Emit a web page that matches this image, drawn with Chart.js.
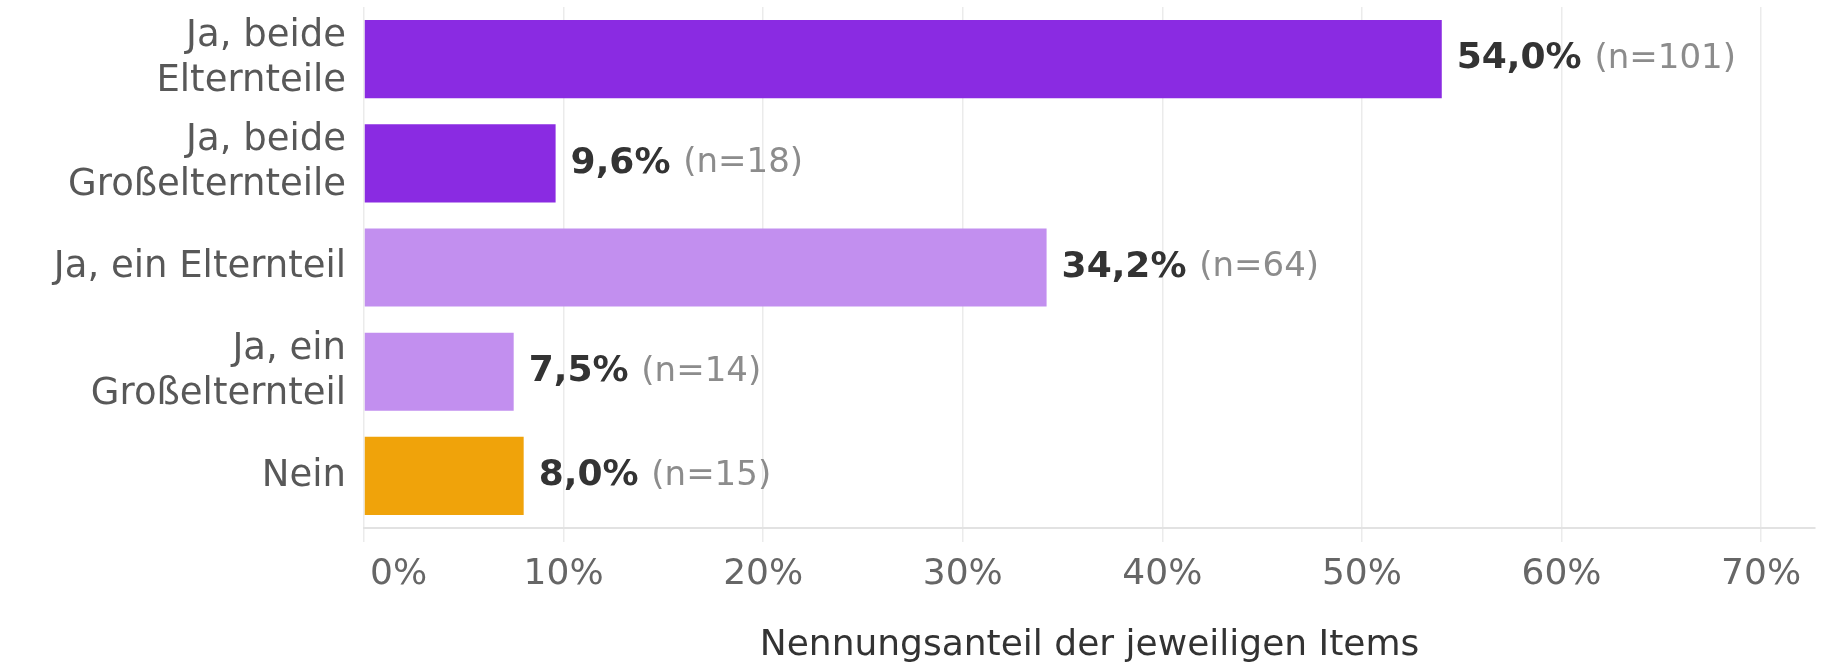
<!DOCTYPE html>
<html><head><meta charset="utf-8">
<script src="https://cdn.jsdelivr.net/npm/chart.js@4/dist/chart.umd.min.js"></script>
<style>html,body{margin:0;padding:0;background:#fff;} #wrap{width:1845px;height:664px;position:relative;}</style>
</head><body><div id="wrap"><canvas id="c"></canvas></div>
<script>
const categories = [["Ja, beide","Elternteile"],["Ja, beide","Großelternteile"],"Ja, ein Elternteil",["Ja, ein","Großelternteil"],"Nein"];
const shares = [54.0, 9.6, 34.2, 7.5, 8.0];
const counts = [101, 18, 64, 14, 15];
const barColors = ["#8a2be2","#8a2be2","#c28fef","#c28fef","#f0a30a"];
const xTicks = [0,10,20,30,40,50,60,70];
const xMax = 72.7;
const axisTitle = "Nennungsanteil der jeweiligen Items";

const FONT = "'DejaVu Sans', sans-serif";

const valueLabels = {
  id: 'valueLabels',
  afterDatasetsDraw(chart) {
    const ctx = chart.ctx;
    const meta = chart.getDatasetMeta(0);
    ctx.save();
    ctx.textBaseline = 'middle';
    ctx.textAlign = 'left';
    meta.data.forEach((el, i) => {
      const pct = shares[i].toFixed(1).replace('.', ',') + '%';
      const x = el.x + 15;
      ctx.font = "bold 36px " + FONT;
      ctx.fillStyle = '#333333';
      ctx.fillText(pct, x, el.y);
      const w = ctx.measureText(pct).width;
      ctx.font = "34px " + FONT;
      ctx.fillStyle = '#8c8c8c';
      ctx.fillText(' (n=' + counts[i] + ')', x + w + 2, el.y);
    });
    ctx.restore();
  }
};

const firstTickAlign = {
  id: 'firstTickAlign',
  beforeDraw(chart) {
    const s = chart.scales.x;
    const items = s.getLabelItems();
    if (items && items.length) {
      items[0].options.textAlign = 'left';
      items[0].options.translation[0] = s.getPixelForValue(xTicks[0]) + 6;
    }
  }
};

new Chart(document.getElementById('c'), {
  type: 'bar',
  data: {
    labels: categories,
    datasets: [{
      data: shares,
      backgroundColor: barColors,
      borderWidth: 0,
      categoryPercentage: 1.0,
      barPercentage: 0.75
    }]
  },
  options: {
    indexAxis: 'y',
    responsive: true,
    maintainAspectRatio: false,
    animation: false,
    layout: { padding: { left: 0, right: 30, top: 7, bottom: 0 } },
    plugins: { legend: { display: false }, tooltip: { enabled: false } },
    scales: {
      x: {
        min: 0,
        max: xMax,
        afterBuildTicks(scale) { scale.ticks = xTicks.map(v => ({ value: v })); },
        afterFit(scale) { scale.height = 136; scale.paddingLeft = 0; scale.paddingRight = 0; },
        grid: { color: '#ebebeb', lineWidth: 1.5, tickLength: 14, drawTicks: true },
        border: { display: true, color: '#e2e2e2', width: 2 },
        ticks: {
          color: '#666666',
          padding: 11,
          font: { family: FONT, size: 36, lineHeight: 1.2 },
          callback: (v) => v + '%'
        },
        title: {
          display: true,
          text: axisTitle,
          color: '#333333',
          font: { family: FONT, size: 36, lineHeight: 1 },
          padding: { top: 0, bottom: 0 }
        }
      },
      y: {
        afterFit(scale) { scale.width = 364; scale.paddingTop = 0; scale.paddingBottom = 0; },
        grid: { display: false, drawTicks: false },
        border: { display: false },
        ticks: {
          color: '#585858',
          padding: 18,
          font: { family: FONT, size: 37, lineHeight: 1.22 }
        }
      }
    }
  },
  plugins: [valueLabels, firstTickAlign]
});
</script>
</body></html>
